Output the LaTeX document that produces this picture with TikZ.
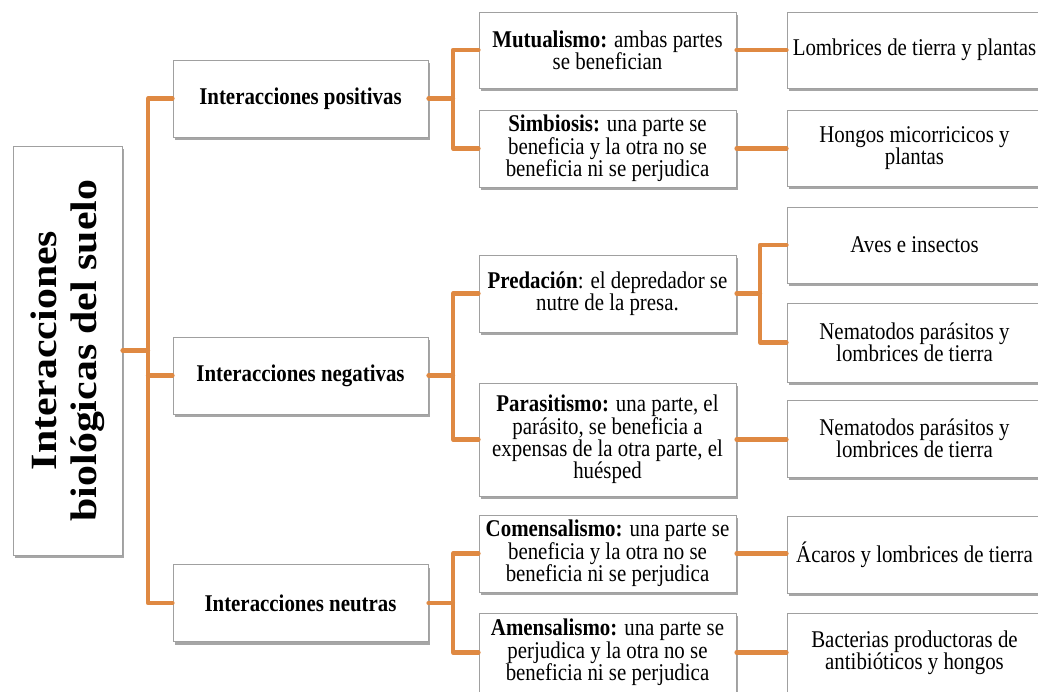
\documentclass[tikz,border=0pt]{standalone}
\usepackage{fontspec}
\setmainfont{Liberation Serif}[FakeStretch=0.87]
\newfontfamily\rootfont{Liberation Serif}[FakeStretch=1.13]
\usetikzlibrary{shadows}
\definecolor{conn}{RGB}{223,137,66}
\definecolor{boxgray}{RGB}{160,160,160}
\begin{document}
\begin{tikzpicture}[x=1pt,y=-1pt,
  cbox/.style={draw=boxgray, fill=white, line width=1pt,
    drop shadow={shadow xshift=1.5pt, shadow yshift=-3pt, opacity=0.35, fill=black},
    align=center, inner sep=0pt, font=\fontsize{24}{22.4}\selectfont},
  l1/.style={cbox, minimum width=255pt, minimum height=77pt},
  l2/.style={cbox, minimum width=257pt, minimum height=77pt},
  l3/.style={cbox, minimum width=255pt, minimum height=77pt},
  link/.style={draw=conn, line width=4.2pt, line join=round, line cap=round}]
\useasboundingbox (0,0) rectangle (1038,691);
% root
\node[cbox, minimum width=109pt, minimum height=409pt] (root) at (67.5,350.5) {};
\node[rotate=90, align=center, font=\rootfont\fontsize{37}{40}\selectfont\bfseries] (roottxt) at (root.center) {Interacciones\\biológicas del suelo};
% level 1
\node[l1] (pos) at (300.5,98.5) {\textbf{Interacciones positivas}};
\node[l1] (neg) at (300.5,375.5) {\textbf{Interacciones negativas}};
\node[l1] (neu) at (300.5,603) {\textbf{Interacciones neutras}};
% level 2
\node[l2, minimum height=76pt] (mut) at (607.5,50) {\textbf{Mutualismo:} ambas partes\\se benefician};
\node[l2] (sim) at (607.5,148.5) {\textbf{Simbiosis:} una parte se\\beneficia y la otra no se\\beneficia ni se perjudica};
\node[l2] (pred) at (607.5,293.5) {\textbf{Predación}: el depredador se\\nutre de la presa.};
\node[l2, minimum height=113pt] (para) at (607.5,439.5) {\textbf{Parasitismo:} una parte, el\\parásito, se beneficia a\\expensas de la otra parte, el\\huésped};
\node[l2] (com) at (607.5,553.5) {\textbf{Comensalismo:} una parte se\\beneficia y la otra no se\\beneficia ni se perjudica};
\node[l2, minimum height=79pt] (amen) at (607.5,652.5) {\textbf{Amensalismo:} una parte se\\perjudica y la otra no se\\beneficia ni se perjudica};
% level 3
\node[l3, minimum height=76pt] (lomb) at (914.5,50) {Lombrices de tierra y plantas};
\node[l3, minimum height=76pt] (hong) at (914.5,148) {Hongos micorricicos y\\plantas};
\node[l3, minimum height=76pt] (aves) at (914.5,245) {Aves e insectos};
\node[l3, minimum height=79pt] (nem1) at (914.5,342.5) {Nematodos parásitos y\\lombrices de tierra};
\node[l3] (nem2) at (914.5,438.5) {Nematodos parásitos y\\lombrices de tierra};
\node[l3] (acar) at (914.5,554.5) {Ácaros y lombrices de tierra};
\node[l3, minimum height=79pt] (bact) at (914.5,652.5) {Bacterias productoras de\\antibióticos y hongos};
% junction coordinates
\coordinate (t) at (148,350.5);
\coordinate (bp) at (453,98.5);
\coordinate (bn) at (453,375.5);
\coordinate (bu) at (453,603);
\coordinate (bpr) at (760,293.5);
% connectors
\draw[link] (root.east) -- (t);
\draw[link] (pos.west) -| (t) |- (neu.west);
\draw[link] (neg.west) -- (neg.west -| t);
\draw[link] (pos.east) -- (bp);
\draw[link] (mut.west) -| (bp) |- (sim.west);
\draw[link] (neg.east) -- (bn);
\draw[link] (pred.west) -| (bn) |- (para.west);
\draw[link] (neu.east) -- (bu);
\draw[link] (com.west) -| (bu) |- (amen.west);
\draw[link] (mut.east) -- (lomb.west);
\draw[link] (sim.east) -- (sim.east -| hong.west);
\draw[link] (pred.east) -- (bpr);
\draw[link] (aves.west) -| (bpr) |- (nem1.west);
\draw[link] (para.east) -- (para.east -| nem2.west);
\draw[link] (com.east) -- (com.east -| acar.west);
\draw[link] (amen.east) -- (bact.west);
\end{tikzpicture}
\end{document}
